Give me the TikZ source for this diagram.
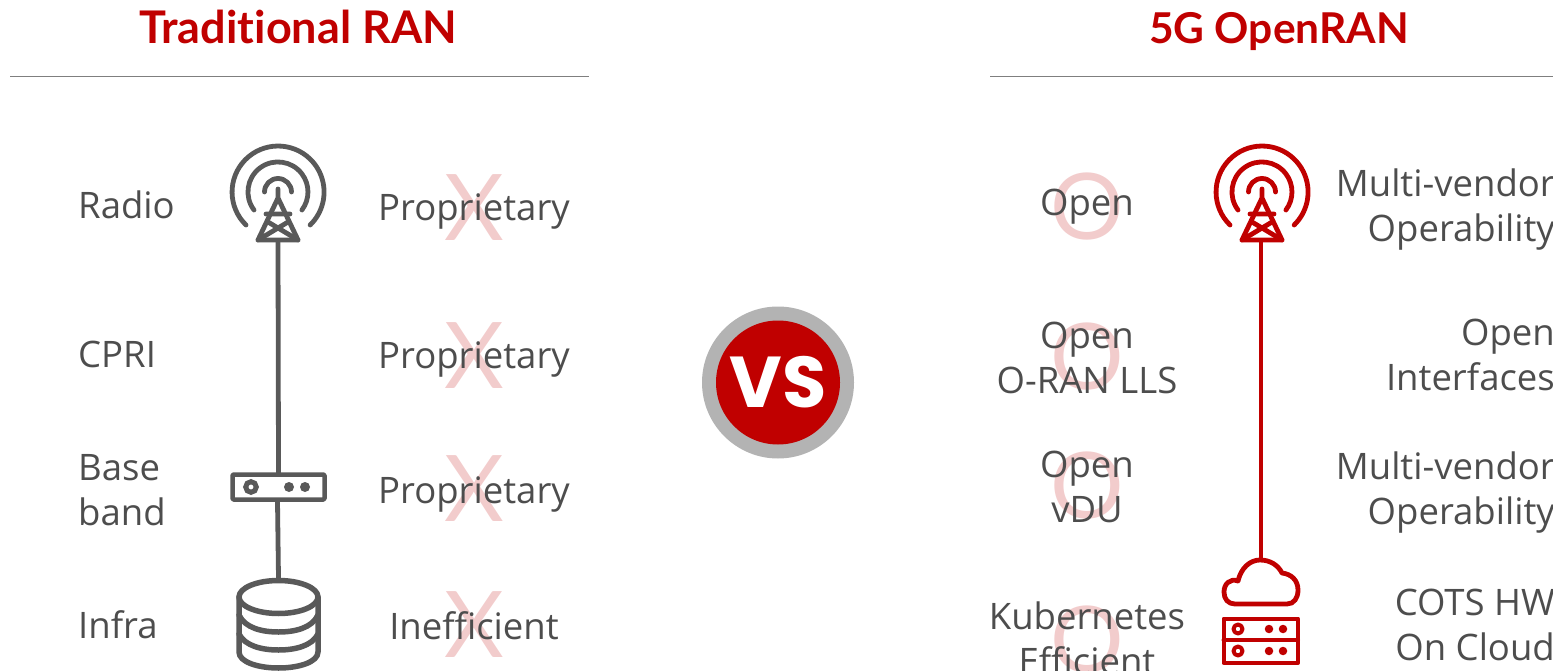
\documentclass[tikz,border=0pt]{standalone}
\usepackage{fontspec}
\setmainfont{Open Sans}
\newfontfamily\vsfont{Poppins}
\newfontfamily\titlefont[Ligatures=NoCommon]{Lato}
\definecolor{brandred}{HTML}{C00000}
\definecolor{icongray}{HTML}{595959}
\definecolor{txtgray}{HTML}{4D4D4D}
\definecolor{pinkmark}{HTML}{F2CCCC}
\definecolor{rulegray}{HTML}{7F7F7F}
\definecolor{ringgray}{HTML}{B3B3B3}
\tikzset{
  px/.style={x=1pt,y=-1pt},
  titletext/.style={font=\titlefont\fontsize{45}{45}\selectfont\bfseries,text=brandred,inner sep=0pt,anchor=base},
  label/.style={font=\fontsize{36.5}{45}\selectfont,text=txtgray,inner sep=0pt,align=center},
  labelleft/.style={label,align=left,anchor=west},
  labelright/.style={label,align=right,anchor=east},
  bigmark/.style={font=\titlefont\fontsize{92}{92}\selectfont,text=pinkmark,inner sep=0pt},
  titlerule/.style={draw=rulegray,line width=1.3pt},
  icon/.style={line width=4.8pt,line cap=round,line join=round},
  dot/.style={inner sep=0pt,minimum size=10pt,circle},
  anchorpt/.style={inner sep=0pt,minimum size=0pt},
}
\newcommand{\towericon}[2]{%
  \begin{scope}[shift={(#1,0)},icon,draw=#2]
    \draw (-32,225) arc[start angle=225.8,end angle=-45.8,x radius=46,y radius=-46];
    \draw (-24,210) arc[start angle=217,end angle=-37,x radius=30,y radius=-30];
    \draw (-13.5,192) arc[start angle=180,end angle=0,x radius=13.5,y radius=-13.5];
    \draw (0,189) -- (0,198) -- (-20,240) -- (20,240) -- (0,198);
    \draw (-12,214) -- (12,214) (-20,240) -- (10,222) (20,240) -- (-10,222);
  \end{scope}}
\begin{document}
\begin{tikzpicture}[px]
\useasboundingbox (0,0) rectangle (1553,671);
\clip (0,0) rectangle (1553,671);
% titles
\node[titletext] (t1) at (298,44) {Traditional RAN};
\node[titletext,font=\titlefont\fontsize{42.5}{45}\selectfont\bfseries] (t2) at (1279,44) {5G OpenRAN};
\coordinate (r1a) at (10,76.5); \coordinate (r1b) at (589,76.5);
\coordinate (r2a) at (990,76.5); \coordinate (r2b) at (1553,76.5);
\draw[titlerule] (r1a) -- (r1b);
\draw[titlerule] (r2a) -- (r2b);
% pink marks
\foreach \n/\y in {a/208,b/356,c/489,d/625}
  \node[bigmark] (x\n) at (474,\y) {X};
\foreach \n/\y in {a/207,b/357,c/486,d/640}
  \node[bigmark] (o\n) at (1087,\y) {O};
% left labels
\node[labelleft] (l1) at (78,205) {Radio};
\node[labelleft] (l2) at (78,354) {CPRI};
\node[labelleft] (l3) at (78,490) {Base\\band};
\node[labelleft] (l4) at (78,625) {Infra};
\node[label] (p1) at (474,211) {Proprietary};
\node[label] (p2) at (474,359) {Proprietary};
\node[label] (p3) at (474,494) {Proprietary};
\node[label] (p4) at (474,626) {Inefficient};
% right labels
\node[label] (q1) at (1087,207) {Open};
\node[label] (q2) at (1087,358) {Open\\O-RAN LLS};
\node[label] (q3) at (1087,487) {Open\\vDU};
\node[label] (q4) at (1087,638) {Kubernetes\\Efficient};
\node[labelright] (s1) at (1555,210) {Multi-vendor\\Operability};
\node[labelright] (s2) at (1555,355) {Open\\Interfaces};
\node[labelright] (s3) at (1555,493) {Multi-vendor\\Operability};
\node[labelright] (s4) at (1555,625) {COTS HW\\On Cloud};
% VS
\node[circle,fill=ringgray,minimum size=152pt,inner sep=0pt] (vsring) at (778,382.5) {};
\node[circle,fill=brandred,minimum size=124pt,inner sep=0pt,font=\vsfont\fontsize{72}{72}\selectfont\bfseries,text=white] (vs) at (778,382.5) {VS};
% gray icons
\towericon{278}{icongray}
\coordinate (gbase) at (278,240);
\node[anchorpt] (gbox) at (278.5,487) {};
\draw[icon,draw=icongray,line cap=butt] (gbase) -- (278.5,473);
\draw[icon,draw=icongray,line width=4.5pt,rounded corners=1pt] (232.5,474.5) rectangle (324.5,499.5);
\draw[icongray,line width=5pt] (251,487) circle (5.3);
\node[dot,fill=icongray] (gd1) at (289,487) {};
\node[dot,fill=icongray] (gd2) at (305,487) {};
\coordinate (gboxb) at (277.5,501); \coordinate (gdbt) at (278.5,578);
\draw[icon,draw=icongray,line cap=butt] (gboxb) -- (gdbt);
\begin{scope}[icon,draw=icongray,line width=5.5pt]
  \draw (278.5,597) ellipse [x radius=39.5,y radius=16.5];
  \draw (239,597) -- (239,652) .. controls (239,662) and (258,668) .. (278.5,668) .. controls (299,668) and (318,662) .. (318,652) -- (318,597);
  \draw (239,615) .. controls (245,628) and (262,632) .. (278.5,632) .. controls (295,632) and (312,628) .. (318,615);
  \draw (239,634) .. controls (245,646) and (262,650) .. (278.5,650) .. controls (295,650) and (312,646) .. (318,634);
\end{scope}
% red icons
\towericon{1262}{brandred}
\coordinate (rbase) at (1261,240);
\coordinate (rcloud) at (1261,559);
\draw[icon,draw=brandred,line cap=butt] (rbase) -- (rcloud);
\draw[icon,draw=brandred] (1235,604) -- (1287,604)
  .. controls (1294,604) and (1298,598) .. (1298,590)
  .. controls (1298,580) and (1291,574) .. (1282,573)
  .. controls (1278,565) and (1270,560) .. (1260,560)
  .. controls (1250,560) and (1241,568) .. (1238,581)
  .. controls (1230,578) and (1224,584) .. (1224,592)
  .. controls (1224,599) and (1228,604) .. (1235,604) -- cycle;
\begin{scope}[icon,draw=brandred,line width=4pt]
  \draw (1223.5,618.5) rectangle (1298,663);
  \draw (1223.5,640) -- (1298,640);
  \draw[line width=4pt] (1238,629) circle (4.5);
  \draw[line width=4pt] (1238,651) circle (4.5);
\end{scope}
\foreach \n/\x/\y in {a/1269/629,b/1283/629,c/1269/651,d/1283/651}
  \node[dot,minimum size=8.5pt,fill=brandred] (rd\n) at (\x,\y) {};
\end{tikzpicture}
\end{document}
